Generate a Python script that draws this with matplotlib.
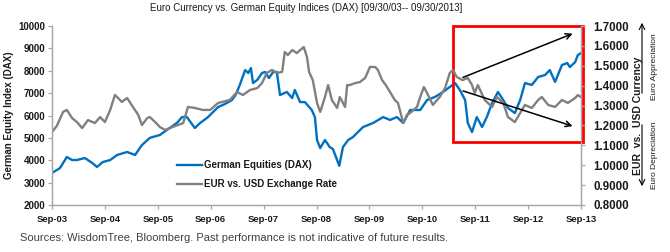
import matplotlib
matplotlib.use('Agg')
import matplotlib.pyplot as plt
from matplotlib.patches import Rectangle

plt.rcParams['font.family'] = ['Liberation Sans', 'DejaVu Sans']

TITLE = 'Euro Currency vs. German Equity Indices (DAX) [09/30/03-- 09/30/2013]'
SOURCE = 'Sources: WisdomTree, Bloomberg. Past performance is not indicative of future results.'

# decimal years
dax_t = [2003.75, 2003.90, 2004.03, 2004.13, 2004.22, 2004.37, 2004.51, 2004.60, 2004.71, 2004.85,
         2004.98, 2005.17, 2005.32, 2005.45, 2005.60, 2005.79, 2005.92, 2006.11, 2006.21, 2006.30,
         2006.45, 2006.55, 2006.70, 2006.89, 2007.02, 2007.15, 2007.22, 2007.30, 2007.40, 2007.46,
         2007.51, 2007.55, 2007.63, 2007.72, 2007.78, 2007.85, 2007.93, 2008.00, 2008.06, 2008.19,
         2008.29, 2008.34, 2008.44, 2008.53, 2008.66, 2008.72, 2008.76, 2008.82, 2008.91, 2009.00,
         2009.06, 2009.14, 2009.18, 2009.25, 2009.35, 2009.44, 2009.63, 2009.82, 2010.01, 2010.14,
         2010.27, 2010.39, 2010.52, 2010.71, 2010.84, 2010.99, 2011.14, 2011.27, 2011.37, 2011.46,
         2011.56, 2011.61, 2011.69, 2011.78, 2011.88, 2011.97, 2012.07, 2012.18, 2012.28, 2012.37,
         2012.50, 2012.60, 2012.69, 2012.82, 2012.94, 2013.07, 2013.16, 2013.26, 2013.39, 2013.49,
         2013.54, 2013.64, 2013.69, 2013.75]
dax = [3430, 3650, 4145, 4010, 4010, 4100, 3880, 3700, 3920, 4010,
       4235, 4370, 4235, 4680, 5000, 5130, 5350, 5665, 5930, 5930,
       5440, 5665, 5930, 6380, 6515, 6690, 6915, 7365, 8030, 7900,
       8120, 7450, 7590, 7900, 7945, 7675, 7945, 7945, 6915, 7050,
       6780, 7140, 6600, 6600, 6245, 5930, 4905, 4545, 4905, 4590,
       4500, 4010, 3750, 4590, 4905, 5040, 5485, 5665, 5930, 5800,
       5930, 5665, 6245, 6245, 6690, 6830, 7050, 7275, 7450, 7140,
       6690, 5665, 5260, 5930, 5485, 5930, 6560, 7050, 6690, 6335,
       6110, 6690, 7450, 7365, 7720, 7810, 8030, 7500, 8255, 8345,
       8165, 8390, 8700, 8790]

eur_t = [2003.75, 2003.84, 2003.96, 2004.03, 2004.13, 2004.22, 2004.32, 2004.43, 2004.56, 2004.66,
         2004.75, 2004.85, 2004.94, 2005.00, 2005.07, 2005.17, 2005.28, 2005.38, 2005.45, 2005.55,
         2005.60, 2005.70, 2005.79, 2005.89, 2005.98, 2006.08, 2006.23, 2006.32, 2006.45, 2006.60,
         2006.74, 2006.89, 2007.11, 2007.25, 2007.36, 2007.49, 2007.63, 2007.72, 2007.81, 2007.91,
         2008.00, 2008.10, 2008.15, 2008.21, 2008.29, 2008.38, 2008.44, 2008.51, 2008.57, 2008.61,
         2008.68, 2008.76, 2008.82, 2008.91, 2008.97, 2009.04, 2009.14, 2009.19, 2009.29, 2009.33,
         2009.38, 2009.48, 2009.57, 2009.67, 2009.76, 2009.86, 2009.91, 2009.99, 2010.06, 2010.14,
         2010.23, 2010.29, 2010.39, 2010.46, 2010.52, 2010.65, 2010.71, 2010.78, 2010.84, 2010.95,
         2011.03, 2011.08, 2011.18, 2011.27, 2011.33, 2011.40, 2011.51, 2011.61, 2011.69, 2011.74,
         2011.80, 2011.93, 2012.07, 2012.16, 2012.28, 2012.37, 2012.50, 2012.60, 2012.69, 2012.82,
         2012.94, 2013.01, 2013.13, 2013.26, 2013.39, 2013.50, 2013.64, 2013.69, 2013.75]
eur = [1.167, 1.197, 1.268, 1.278, 1.237, 1.217, 1.187, 1.227, 1.212, 1.242,
       1.217, 1.278, 1.353, 1.338, 1.318, 1.338, 1.293, 1.253, 1.202, 1.237,
       1.242, 1.217, 1.192, 1.177, 1.187, 1.197, 1.212, 1.293, 1.288, 1.278,
       1.278, 1.313, 1.328, 1.368, 1.353, 1.378, 1.388, 1.413, 1.464, 1.479,
       1.464, 1.469, 1.569, 1.554, 1.579, 1.564, 1.579, 1.594, 1.544, 1.469,
       1.428, 1.313, 1.268, 1.343, 1.403, 1.328, 1.288, 1.343, 1.293, 1.403,
       1.403, 1.413, 1.418, 1.439, 1.494, 1.494, 1.479, 1.428, 1.403, 1.368,
       1.328, 1.313, 1.212, 1.253, 1.263, 1.293, 1.343, 1.393, 1.363, 1.303,
       1.328, 1.343, 1.388, 1.464, 1.479, 1.444, 1.428, 1.439, 1.403, 1.363,
       1.403, 1.328, 1.293, 1.343, 1.313, 1.242, 1.217, 1.263, 1.303, 1.288,
       1.328, 1.343, 1.303, 1.293, 1.328, 1.313, 1.338, 1.353, 1.343]

x_ticks = [2003.75 + i for i in range(11)]
x_labels = ['Sep-03', 'Sep-04', 'Sep-05', 'Sep-06', 'Sep-07', 'Sep-08',
            'Sep-09', 'Sep-10', 'Sep-11', 'Sep-12', 'Sep-13']
left_ticks = list(range(2000, 10001, 1000))
right_ticks = [0.8, 0.9, 1.0, 1.1, 1.2, 1.3, 1.4, 1.5, 1.6, 1.7]

BLUE = '#0070C0'
GRAY = '#808080'
SPINE = '#A6A6A6'
TXT = '#1a1a1a'

fig = plt.figure(figsize=(6.7, 2.52), dpi=100)
ax = fig.add_axes([52 / 670, 47 / 252, 529 / 670, 179 / 252])
ax2 = ax.twinx()

l1, = ax.plot(dax_t, dax, color=BLUE, lw=1.7, label='German Equities (DAX)')
l2, = ax2.plot(eur_t, eur, color=GRAY, lw=1.7, label='EUR vs. USD Exchange Rate')

ax.set_xlim(x_ticks[0], x_ticks[-1])
ax.set_ylim(2000, 10000)
ax2.set_ylim(0.8, 1.7)
ax.set_xticks(x_ticks)
ax.set_xticklabels(x_labels)
ax.set_yticks(left_ticks)
ax2.set_yticks(right_ticks)
ax2.set_yticklabels([f'{v:.4f}' for v in right_ticks])

for a in (ax, ax2):
    a.spines['top'].set_visible(False)
    for s in ('left', 'right', 'bottom'):
        a.spines[s].set_color(SPINE)
        a.spines[s].set_linewidth(0.9)
    a.tick_params(length=3, width=0.9, color=SPINE, labelsize=7, labelcolor=TXT, pad=2)
ax.tick_params(axis='x', pad=4, labelsize=6.8)
ax2.tick_params(axis='y', labelsize=8.3, pad=6)
for a in (ax, ax2):
    for lab in a.get_xticklabels() + a.get_yticklabels():
        lab.set_fontweight('bold')

ax.set_ylabel('German Equity Index (DAX)', fontsize=7, fontweight='bold', color=TXT, labelpad=3)
ax2.set_ylabel('EUR  vs.  USD Currency', fontsize=7.5, fontweight='bold', color=TXT, labelpad=3)

leg = ax.legend(handles=[l1, l2], loc='upper left', bbox_to_anchor=(0.236, 0.25),
                frameon=False, fontsize=7, handlelength=2.6, handletextpad=0.15,
                labelspacing=0.9, borderpad=0, borderaxespad=0)
for t in leg.get_texts():
    t.set_fontweight('bold')
    t.set_color(TXT)

# highlight box and trend arrows
ax.add_patch(Rectangle((0.758, 0.352), 0.246, 0.648, transform=ax.transAxes, fill=False,
                       edgecolor='#FF0000', lw=2, clip_on=False, zorder=5))
ax2.annotate('', xy=(0.989, 0.963), xytext=(0.772, 0.707), xycoords='axes fraction',
             arrowprops=dict(arrowstyle='->', color='black', lw=1.1, mutation_scale=10))
ax2.annotate('', xy=(0.989, 0.436), xytext=(0.772, 0.642), xycoords='axes fraction',
             arrowprops=dict(arrowstyle='->', color='black', lw=1.1, mutation_scale=10))

# euro appreciation / depreciation side notes
ax.annotate('', xy=(642 / 670, 1 - 20 / 252), xytext=(642 / 670, 1 - 96 / 252),
            xycoords='figure fraction', arrowprops=dict(arrowstyle='->', color='black', lw=0.8))
ax.annotate('', xy=(642 / 670, 1 - 189 / 252), xytext=(642 / 670, 1 - 122 / 252),
            xycoords='figure fraction', arrowprops=dict(arrowstyle='->', color='black', lw=0.8))
fig.text(655 / 670, 1 - 67 / 252, 'Euro Appreciation', rotation=90, ha='center', va='center',
         fontsize=6, color=TXT)
fig.text(655 / 670, 1 - 155 / 252, 'Euro Depreciation', rotation=90, ha='center', va='center',
         fontsize=6, color=TXT)

fig.text(306 / 670, 1 - 8 / 252, TITLE, ha='center', va='center', fontsize=7, color=TXT)
fig.text(20 / 670, 1 - 238 / 252, SOURCE, ha='left', va='center', fontsize=8, color='#404040')

fig.savefig('out.png', dpi=100)
